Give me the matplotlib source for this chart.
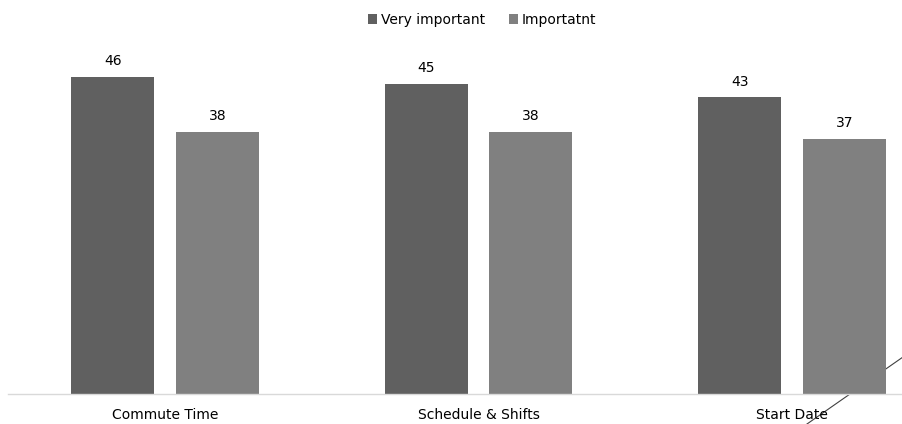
import matplotlib
matplotlib.use("Agg")
import matplotlib.pyplot as plt
from matplotlib.lines import Line2D
import numpy as np

categories = ["Commute Time", "Schedule & Shifts", "Start Date"]
series_names = ["Very important", "Importatnt"]
very_important = [46, 45, 43]
important = [38, 38, 37]

colors = ["#606060", "#808080"]

W, H = 903, 424
fig = plt.figure(figsize=(W / 100, H / 100), dpi=100)

# axes in pixel terms: x from 8.25 to 949 (cropped), y from 394 (bottom) to 49 (top)
left_px, right_px = 8.25, 949.0
bottom_px, top_px = 394.0, 49.0
ax = fig.add_axes([left_px / W, 1 - bottom_px / H, (right_px - left_px) / W, (bottom_px - top_px) / H])
ax.patch.set_alpha(0)

x = np.arange(len(categories))
width = 0.265
off = 0.1667
b1 = ax.bar(x - off, very_important, width, color=colors[0], label=series_names[0])
b2 = ax.bar(x + off, important, width, color=colors[1], label=series_names[1])

for bars, vals in ((b1, very_important), (b2, important)):
    for rect, v in zip(bars, vals):
        ax.annotate(str(v), (rect.get_x() + rect.get_width() / 2, v),
                    xytext=(0, 6), textcoords="offset points",
                    ha="center", va="bottom", fontsize=10, color="#000000")

ax.set_xlim(-0.5, len(categories) - 0.5)
ax.set_ylim(0, 50)
ax.set_xticks(x)
ax.set_xticklabels(categories, fontsize=10)
ax.tick_params(axis="x", length=0, pad=10)
ax.set_yticks([])
for s in ["top", "left", "right"]:
    ax.spines[s].set_visible(False)
ax.spines["bottom"].set_color("#d9d9d9")
ax.spines["bottom"].set_linewidth(1)

fig.legend(handles=[b1, b2], labels=series_names, loc="center",
           bbox_to_anchor=(482 / W, 1 - 20 / H), ncol=2, frameon=False,
           fontsize=10, handlelength=0.65, handleheight=0.65, handletextpad=0.3,
           columnspacing=1.7)

# stray diagonal line (behind the bars)
fig.add_artist(Line2D([807 / W, 1.0], [1 - 424 / H, 1 - 357 / H],
                      transform=fig.transFigure, color="#404040", linewidth=0.8,
                      zorder=-1))

fig.savefig("out.png", dpi=100)
